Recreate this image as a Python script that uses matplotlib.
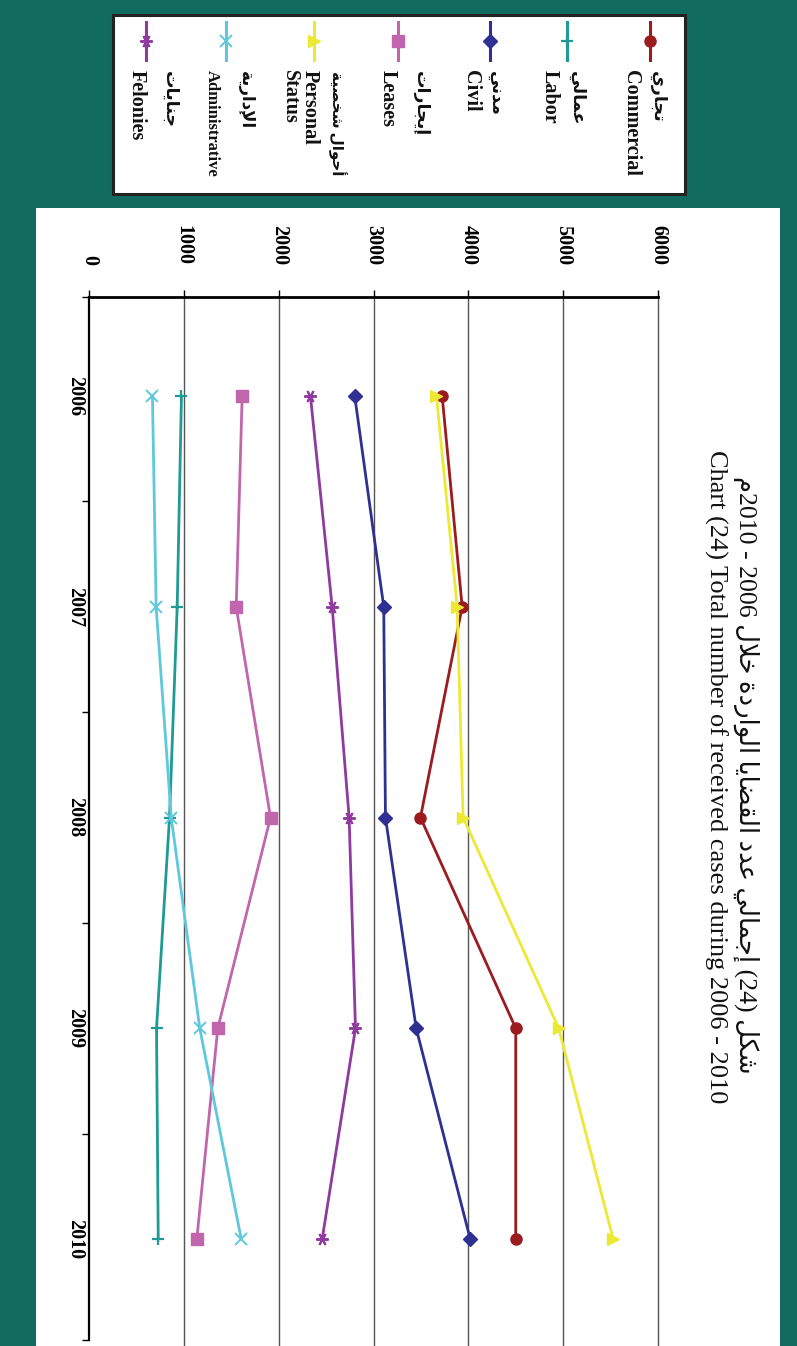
import matplotlib
matplotlib.use('Agg')
import matplotlib.pyplot as plt
from matplotlib.lines import Line2D
from matplotlib.patches import Rectangle
from matplotlib.ticker import FixedLocator

# ---------------- data ----------------
years = ['2006', '2007', '2008', '2009', '2010']
commercial = [3724, 3935, 3495, 4500, 4500]
labor = [975, 930, 849, 712, 730]
civil = [2802, 3108, 3126, 3450, 4020]
leases = [1615, 1552, 1914, 1358, 1137]
personal_status = [3664, 3882, 3945, 4953, 5527]
administrative = [669, 708, 867, 1168, 1605]
felonies = [2335, 2564, 2743, 2810, 2459]
value_ticks = [0, 1000, 2000, 3000, 4000, 5000, 6000]

names_en = ['Commercial', 'Labor', 'Civil', 'Leases', 'Personal\nStatus', 'Administrative', 'Felonies']
names_ar = [['تجاري'], ['عمالي'], ['مدني'], ['إيجارات'], ['أحوال', 'شخصية'], ['الإدارية'], ['جنايات']]
title_en = 'Chart (24) Total number of received cases during 2006 - 2010'

# ---------------- minimal Arabic shaping ----------------
FORMS = {
    '\u0627': ('\uFE8D', '\uFE8E', None, None),
    '\u0623': ('\uFE83', '\uFE84', None, None),
    '\u0625': ('\uFE87', '\uFE88', None, None),
    '\u0629': ('\uFE93', '\uFE94', None, None),
    '\u062A': ('\uFE95', '\uFE96', '\uFE97', '\uFE98'),
    '\u062C': ('\uFE9D', '\uFE9E', '\uFE9F', '\uFEA0'),
    '\u062D': ('\uFEA1', '\uFEA2', '\uFEA3', '\uFEA4'),
    '\u062E': ('\uFEA5', '\uFEA6', '\uFEA7', '\uFEA8'),
    '\u062F': ('\uFEA9', '\uFEAA', None, None),
    '\u0631': ('\uFEAD', '\uFEAE', None, None),
    '\u0634': ('\uFEB5', '\uFEB6', '\uFEB7', '\uFEB8'),
    '\u0635': ('\uFEB9', '\uFEBA', '\uFEBB', '\uFEBC'),
    '\u0636': ('\uFEBD', '\uFEBE', '\uFEBF', '\uFEC0'),
    '\u0639': ('\uFEC9', '\uFECA', '\uFECB', '\uFECC'),
    '\u0642': ('\uFED5', '\uFED6', '\uFED7', '\uFED8'),
    '\u0643': ('\uFED9', '\uFEDA', '\uFEDB', '\uFEDC'),
    '\u0644': ('\uFEDD', '\uFEDE', '\uFEDF', '\uFEE0'),
    '\u0645': ('\uFEE1', '\uFEE2', '\uFEE3', '\uFEE4'),
    '\u0646': ('\uFEE5', '\uFEE6', '\uFEE7', '\uFEE8'),
    '\u0648': ('\uFEED', '\uFEEE', None, None),
    '\u064A': ('\uFEF1', '\uFEF2', '\uFEF3', '\uFEF4'),
}
LAMALEF = {'\u0627': ('\uFEFB', '\uFEFC'), '\u0623': ('\uFEF7', '\uFEF8'),
           '\u0625': ('\uFEF9', '\uFEFA')}


def shape_word(w):
    units = []
    i = 0
    while i < len(w):
        c = w[i]
        if c == '\u0644' and i + 1 < len(w) and w[i + 1] in LAMALEF:
            units.append(('LA', w[i + 1]))
            i += 2
        else:
            units.append(('C', c))
            i += 1

    def dual(u):
        return u[0] == 'C' and u[1] in FORMS and FORMS[u[1]][2] is not None

    out = []
    for k, u in enumerate(units):
        prev_j = k > 0 and dual(units[k - 1])
        next_j = dual(u) and k + 1 < len(units)
        if u[0] == 'LA':
            out.append(LAMALEF[u[1]][1 if prev_j else 0])
        elif u[1] not in FORMS:
            out.append(u[1])
        else:
            f = FORMS[u[1]]
            if prev_j and next_j:
                out.append(f[3])
            elif prev_j:
                out.append(f[1])
            elif next_j:
                out.append(f[2])
            else:
                out.append(f[0])
    return ''.join(reversed(out))


def visual(words):
    return ' '.join(shape_word(w) for w in reversed(words))


# Arabic title in visual (left-to-right) order
title_ar = (shape_word('م') + '2010 - 2006 ' + shape_word('خلال') + ' ' +
            shape_word('الواردة') + ' ' + shape_word('القضايا') + ' ' +
            shape_word('عدد') + ' ' + shape_word('إجمالي') + ' (24) ' + shape_word('شكل'))

# ---------------- figure ----------------
W, H = 797, 1346
TEAL = '#116b5f'
FONT = ['Liberation Serif', 'DejaVu Sans']
plt.rcParams['font.family'] = FONT

fig = plt.figure(figsize=(W / 100, H / 100), dpi=100)
fig.patch.set_facecolor(TEAL)


def fx(x):
    return x / W


def fy(y):
    return 1 - y / H


fig.add_artist(Rectangle((fx(36), 0), (780 - 36) / W, (H - 208) / H,
                         transform=fig.transFigure, facecolor='white',
                         edgecolor='none', zorder=0))

# legend box
fig.add_artist(Rectangle((fx(113), fy(194)), (685 - 113) / W, (194 - 15) / H,
                         transform=fig.transFigure, facecolor='white',
                         edgecolor='#222222', linewidth=2.2, zorder=1))

series = [commercial, labor, civil, leases, personal_status, administrative, felonies]
colors = ['#9b1b1f', '#1f9a95', '#2e3192', '#c166ad', '#ede833', '#5ec8dc', '#8f3a9e']
markers = ['o', '+', 'D', 's', '>', 'x', (6, 2, 90)]
msizes = [8, 9, 7, 8.5, 8.5, 9, 9]
mews = [1, 1.6, 1, 1, 1, 1.4, 1.4]

# axes
c_top = 0.53
c_bot = 1 + (H - 396) / 210.75
ax = fig.add_axes([fx(89), 0, (658 - 89) / W, (H - 297) / H])
ax.set_facecolor('none')
ax.set_zorder(2)
ypos = list(range(1, len(years) + 1))

for vals, col, mk, ms, mew in zip(series, colors, markers, msizes, mews):
    ax.plot(vals, ypos, color=col, lw=2.0, marker=mk, ms=ms,
            markeredgewidth=mew, markeredgecolor=col, markerfacecolor=col,
            clip_on=False, zorder=3)

ax.set_xlim(0, 6000)
ax.set_ylim(c_bot, c_top)
for v in value_ticks[1:]:
    ax.axvline(v, color='#555555', lw=1.0, zorder=1, clip_on=False)

for s in ['right', 'bottom']:
    ax.spines[s].set_visible(False)
ax.spines['top'].set_linewidth(2.0)
ax.spines['top'].set_color('black')
ax.spines['left'].set_linewidth(1.6)
ax.spines['left'].set_color('black')
ax.spines['left'].set_bounds(c_top, 5.48)

ax.xaxis.set_ticks_position('top')
ax.set_xticks(value_ticks)
ax.set_xticklabels([str(v) for v in value_ticks], rotation=-90,
                   fontsize=14.5, fontweight='bold')
ax.tick_params(axis='x', direction='out', length=5, width=1.0, pad=18)

ax.set_yticks(ypos)
ax.set_yticklabels(years, rotation=-90, fontsize=14.5, fontweight='bold',
                   va='center')
ax.tick_params(axis='y', which='major', length=0, pad=2.5)
ax.yaxis.set_minor_locator(FixedLocator([c_top, 1.5, 2.5, 3.5, 4.5, 5.48]))
ax.tick_params(axis='y', which='minor', direction='out', length=5, width=1.0)

# title
fig.text(fx(746), fy(775), title_ar, rotation=-90, ha='center', va='center',
         fontsize=18.6, color='#111111')
fig.text(fx(716), fy(776.5), title_en, rotation=-90, ha='center', va='center',
         fontsize=19, color='#111111')

# legend entries
leg_marker_x = [650, 567, 490, 398, 314, 226, 146]
leg_ar_x = [657, 576, 495, 420, 337, 245, 169]
leg_en_x = [631, 550, 471, 388, 300, 212, 137]
leg_ar_size = [12.5, 12.5, 12.5, 12.5, 11, 12, 12.5]
for i in range(len(series)):
    x = leg_marker_x[i]
    fig.add_artist(Line2D([fx(x), fx(x)], [fy(22), fy(60)], transform=fig.transFigure,
                          color=colors[i], lw=2.2, zorder=3))
    fig.add_artist(Line2D([fx(x)], [fy(41)], transform=fig.transFigure,
                          color=colors[i], marker=markers[i], ms=msizes[i],
                          markeredgewidth=mews[i], markeredgecolor=colors[i],
                          markerfacecolor=colors[i], lw=0, zorder=3))
    fig.text(fx(leg_ar_x[i]), fy(71), visual(names_ar[i]), rotation=-90,
             rotation_mode='anchor', ha='left', va='center', fontsize=leg_ar_size[i],
             fontweight='bold', color='#111111', zorder=3)
    fs = 12 if names_en[i] == 'Administrative' else 14.5
    fig.text(fx(leg_en_x[i]), fy(70), names_en[i], rotation=-90,
             rotation_mode='anchor', ha='left', va='center', fontsize=fs,
             fontweight='bold', color='#111111', zorder=3, linespacing=1.0)

fig.savefig('out.png', dpi=100, facecolor=fig.get_facecolor())
